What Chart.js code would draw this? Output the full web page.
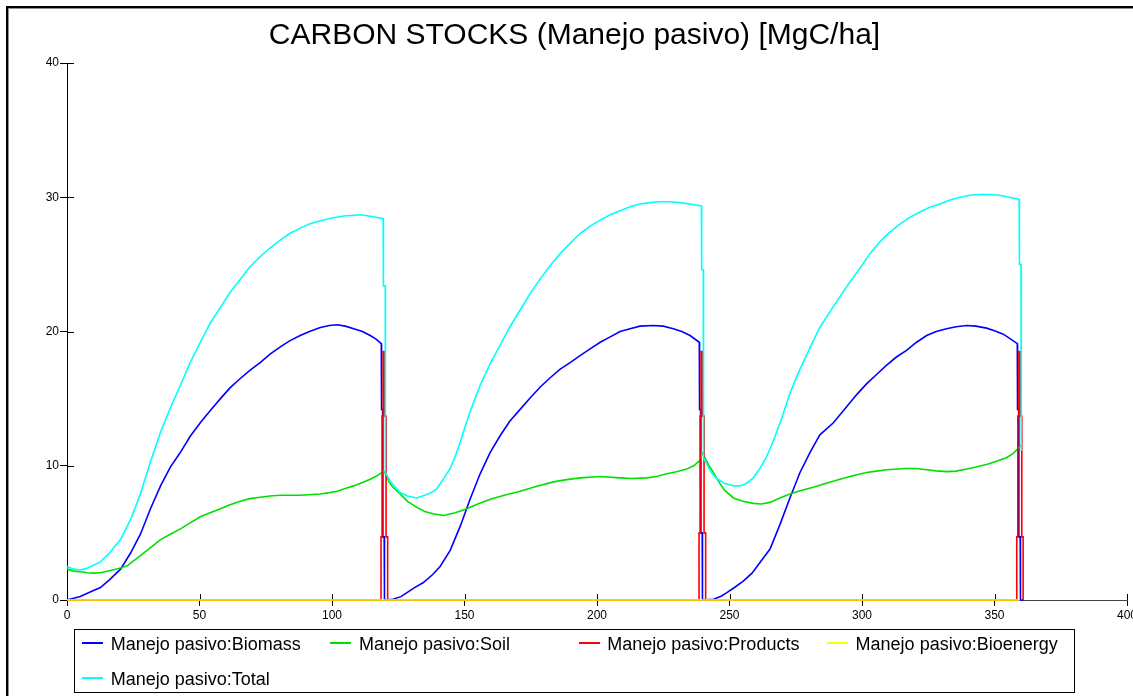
<!DOCTYPE html>
<html>
<head>
<meta charset="utf-8">
<script src="https://cdn.jsdelivr.net/npm/chart.js@4.4.0/dist/chart.umd.min.js"></script>
<style>
html,body{margin:0;padding:0;background:#fff;}
#wrap{position:relative;width:1133px;height:696px;overflow:hidden;background:#fff;}
#c{position:absolute;left:0;top:0;}
#frame{position:absolute;left:6px;top:6px;width:1127px;height:690px;border-top:2px solid #000;border-left:2px solid #000;box-shadow:inset 1px 1px 0 #909090;pointer-events:none;}
#legend{position:absolute;left:74px;top:629px;width:999px;height:62px;border:1px solid #000;font-family:'Liberation Sans',Arial,sans-serif;font-size:18px;color:#000;}
.lt{position:absolute;white-space:nowrap;line-height:20px;}
.ll{position:absolute;height:2px;width:21px;}
</style>
</head>
<body>
<div id="wrap">
  <canvas id="c" width="1133" height="696"></canvas>
  <div id="legend"></div>
  <div id="frame"></div>
</div>
<script>
// ---------- DATA ----------
const chartTitle = "CARBON STOCKS (Manejo pasivo) [MgC/ha]";
const seriesNames = ["Manejo pasivo:Biomass","Manejo pasivo:Soil","Manejo pasivo:Products","Manejo pasivo:Bioenergy","Manejo pasivo:Total"];
const seriesColors = ["#0000ff","#00e000","#ff0000","#ffff00","#00ffff"];
const xTickStep = 50, xMin = 0, xMax = 400;
const yTickStep = 10, yMin = 0, yMax = 40;

const biomassX = [0,5,10,12.6,16,20.2,24,27.7,31.5,35.3,39,42.8,46.5,50.3,54,57.9,61.5,65.4,69,73,76.5,80.5,84,88,91.5,95.6,99,101.9,105,108.2,111.5,114.4,116.5,118.6,
  118.7,119.1,119.2,119.7,119.8,
  123,126,128.3,131,134.5,138,140.8,144.6,148.4,152.1,155.9,159.7,163.5,167,171,175,178.5,182,186.1,190,193.6,197.4,201.2,205,208.7,212.5,216.2,221.3,225,228.8,232,235.1,238.6,
  238.7,239.1,239.2,239.7,239.8,
  244,247,249,252,255.2,258.5,261.5,265.3,269.1,272.8,276.6,280.4,284.1,289.2,294.2,298,301.7,305.5,309.3,313,316.8,320.6,324.4,328,331.9,335.5,339.5,343,347,350,353.3,356,358.6,
  358.7,359.1,359.2,359.7,359.8,360.8];
const biomassY = [0,0.26,0.7,0.93,1.5,2.3,3.5,4.9,6.8,8.5,9.9,11.0,12.2,13.2,14.1,15.0,15.8,16.5,17.1,17.7,18.3,18.85,19.3,19.7,20.0,20.3,20.45,20.5,20.4,20.2,20.0,19.7,19.45,19.1,
  14.2,14.2,4.7,4.7,0,
  0.05,0.25,0.55,0.9,1.3,1.9,2.5,3.7,5.5,7.5,9.4,11.0,12.25,13.3,14.2,15.1,15.85,16.5,17.2,17.7,18.2,18.7,19.2,19.6,20.0,20.2,20.4,20.45,20.4,20.2,20.0,19.7,19.2,
  14.2,14.2,5.0,5.0,0,
  0.05,0.3,0.55,0.95,1.4,2.0,2.8,3.8,5.65,7.6,9.5,11.0,12.3,13.2,14.4,15.3,16.1,16.8,17.5,18.1,18.6,19.2,19.7,20.0,20.2,20.35,20.45,20.4,20.25,20.05,19.8,19.45,19.1,
  14.2,14.2,4.7,4.7,0,0];

const soilX = [0,2.5,5,7.5,10,13,16.4,19.5,22.7,25,27.7,31.5,35.3,39,42.8,46.5,50.3,54,57.9,61.5,65.4,69,73,76.5,80.5,88,95.6,99,101.9,105,108.2,111.5,114.4,117,119.5,
  120.2,121.5,123,125.7,128.5,132,135,138.5,142.1,146.5,150.9,155,159.7,165,171,177,183.6,188,193.6,201.2,208.7,213,218.8,222.5,226.3,230,233.8,236.5,238.9,239.6,
  240.5,242,243.9,246,248,251.5,255,259,262,265.3,269,272.8,277,281.6,286.5,291.7,296.5,301.7,305.5,309.3,316.8,320.6,324.4,328,331.9,335.5,339.5,343,347,351,354.5,357,359.5,360.1];
const soilY = [2.3,2.15,2.1,2.03,2.0,2.05,2.2,2.35,2.55,2.9,3.3,3.9,4.5,4.9,5.3,5.75,6.2,6.5,6.8,7.1,7.35,7.55,7.65,7.75,7.8,7.8,7.9,8.0,8.1,8.3,8.5,8.75,9.0,9.25,9.6,
  9.4,8.8,8.4,7.9,7.35,6.9,6.6,6.4,6.3,6.5,6.8,7.15,7.5,7.8,8.1,8.45,8.8,8.95,9.1,9.2,9.1,9.05,9.1,9.2,9.4,9.55,9.75,10.0,10.4,11.0,
  10.7,10.1,9.5,8.8,8.2,7.6,7.35,7.2,7.15,7.27,7.6,7.9,8.15,8.4,8.7,9.0,9.25,9.5,9.6,9.7,9.8,9.8,9.7,9.62,9.56,9.6,9.76,9.9,10.1,10.35,10.6,10.9,11.4,11.5];

const productsX = [0,118.5,118.5,118.9,118.9,119.3,119.3,119.9,119.9,120.4,120.4,121,121,
  238.5,238.5,238.9,238.9,239.3,239.3,239.9,239.9,240.4,240.4,241,241,
  358.4,358.4,358.8,358.8,359.2,359.2,359.8,359.8,360.3,360.3,360.8,360.8];
const productsY = [0,0,4.7,4.7,13.7,13.7,18.5,18.5,13.7,13.7,4.7,4.7,0,
  0,5.0,5.0,13.7,13.7,18.5,18.5,13.7,13.7,5.0,5.0,0,
  0,4.7,4.7,13.7,13.7,18.5,18.5,13.7,13.7,4.7,4.7,0];

const bioenergyX = [0,120,240,359.5];
const bioenergyY = [0,0,0,0];

const totalX = [0,2.5,5,8,12.6,16,20.2,24,27.7,31.5,35.3,39,42.8,46.5,50.3,54,57.9,61.5,65.4,69,73,76.5,80.5,84,88,91.5,95.6,100,104.4,110.7,115.7,119.3,
  119.4,120.1,120.15,
  121.5,123,125.7,128.5,132,135,137.5,139.6,142,144.6,146.5,148.4,150.2,152.1,154,155.9,159.7,163.5,167,171,174.7,178.5,182.3,186.1,190,193.6,197.4,201.2,205,208.7,212.5,216.2,220,223.8,227.5,231.3,235,239.4,
  239.5,240.1,240.2,
  242,243.5,245.2,248,251.5,254,256.5,259,261.5,263.5,265.3,267.2,269.1,271,272.8,274.7,276.6,280.4,284.1,288,291.7,295.5,299.2,303,306.8,310.5,314.3,318,321.9,325.6,329.4,333.2,337,340.8,344.5,348.3,352,355.5,359.3,
  359.4,360.0,360.1];
const totalY = [2.5,2.3,2.24,2.4,2.84,3.5,4.5,6.0,7.9,10.3,12.5,14.3,16.0,17.7,19.2,20.6,21.8,22.9,23.9,24.8,25.6,26.2,26.8,27.3,27.7,28.0,28.25,28.45,28.6,28.7,28.55,28.4,
  23.4,23.4,9.5,
  9.0,8.6,8.0,7.75,7.6,7.8,8.0,8.3,9.0,9.8,10.7,11.75,12.9,14.0,15.0,16.0,17.6,19.0,20.3,21.6,22.8,23.9,24.9,25.8,26.6,27.3,27.85,28.3,28.7,29.0,29.3,29.5,29.6,29.66,29.66,29.6,29.5,29.35,
  24.6,24.6,10.6,
  9.9,9.4,9.05,8.7,8.5,8.5,8.7,9.1,9.8,10.5,11.25,12.2,13.2,14.3,15.4,16.3,17.2,18.8,20.3,21.5,22.6,23.7,24.7,25.8,26.7,27.4,28.0,28.5,28.9,29.25,29.5,29.8,30.0,30.15,30.2,30.2,30.15,30.0,29.86,
  25.0,25.0,11.1];

// ---------- BUILD ----------
function zip(xs, ys){
  if (xs.length !== ys.length) console.warn('length mismatch', xs.length, ys.length);
  const n = Math.min(xs.length, ys.length), out = [];
  for (let i = 0; i < n; i++) out.push({x: xs[i], y: ys[i]});
  return out;
}
const seriesData = [zip(biomassX, biomassY), zip(soilX, soilY), zip(productsX, productsY), zip(bioenergyX, bioenergyY), zip(totalX, totalY)];
const FONT = "'Liberation Sans', Arial, Helvetica, sans-serif";

const datasets = seriesNames.map((name, i) => ({
  label: name,
  data: seriesData[i],
  borderColor: seriesColors[i],
  backgroundColor: seriesColors[i],
  borderWidth: 1.6,
  pointRadius: 0,
  tension: 0,
  fill: false,
  clip: false,
  order: seriesNames.length - i
}));

const innerTicks = {
  id: 'innerTicks',
  beforeDatasetsDraw(chart){
    const {ctx, scales:{x, y}} = chart;
    ctx.save();
    ctx.strokeStyle = '#000';
    ctx.lineWidth = 1;
    x.ticks.forEach((t, i) => {
      const px = Math.round(x.getPixelForTick(i)) + 0.5;
      ctx.beginPath(); ctx.moveTo(px, x.top - 6); ctx.lineTo(px, x.top); ctx.stroke();
    });
    y.ticks.forEach((t, i) => {
      const py = Math.round(y.getPixelForTick(i)) + 0.5;
      ctx.beginPath(); ctx.moveTo(y.right, py); ctx.lineTo(y.right + 7, py); ctx.stroke();
    });
    ctx.restore();
  }
};

const chart = new Chart(document.getElementById('c').getContext('2d'), {
  type: 'line',
  data: { datasets },
  options: {
    responsive: false,
    animation: false,
    devicePixelRatio: 1,
    layout: { padding: { left: 22, right: 6, top: 0, bottom: 66 }, autoPadding: false },
    plugins: {
      legend: { display: false },
      tooltip: { enabled: false },
      title: {
        display: true, text: chartTitle, color: '#000',
        font: { family: FONT, size: 30, weight: 'normal', lineHeight: 1.2 },
        padding: { top: 18, bottom: 9 }
      }
    },
    scales: {
      x: {
        type: 'linear', min: xMin, max: xMax,
        ticks: { stepSize: xTickStep, color: '#000', font: { family: FONT, size: 12 }, padding: 2, maxRotation: 0, autoSkip: false },
        grid: { display: true, drawOnChartArea: false, drawTicks: true, tickLength: 6, color: '#000' },
        border: { display: true, color: '#444', width: 1 },
        afterFit(s){ s.height = 30; s.paddingLeft = 0; s.paddingRight = 0; }
      },
      y: {
        type: 'linear', min: yMin, max: yMax,
        ticks: { stepSize: yTickStep, color: '#000', font: { family: FONT, size: 12 }, padding: 1 },
        grid: { display: true, drawOnChartArea: false, drawTicks: true, tickLength: 7, color: '#000' },
        border: { display: true, color: '#000', width: 1 },
        afterFit(s){ s.width = 45; s.paddingTop = 0; s.paddingBottom = 0; }
      }
    }
  },
  plugins: [innerTicks]
});

// ---------- HTML legend built from the datasets ----------
(function buildLegend(){
  const box = document.getElementById('legend');
  const colW = 248.3, cols = 4;
  chart.data.datasets.forEach((ds, i) => {
    const col = i % cols, row = Math.floor(i / cols);
    const line = document.createElement('div');
    line.className = 'll';
    line.style.background = ds.borderColor;
    line.style.left = (7 + col * colW) + 'px';
    line.style.top = (12.3 + row * 34.4) + 'px';
    box.appendChild(line);
    const t = document.createElement('div');
    t.className = 'lt';
    t.textContent = ds.label;
    t.style.left = (35.7 + col * colW) + 'px';
    t.style.top = (4.4 + row * 34.3) + 'px';
    box.appendChild(t);
  });
})();
</script>
</body>
</html>
